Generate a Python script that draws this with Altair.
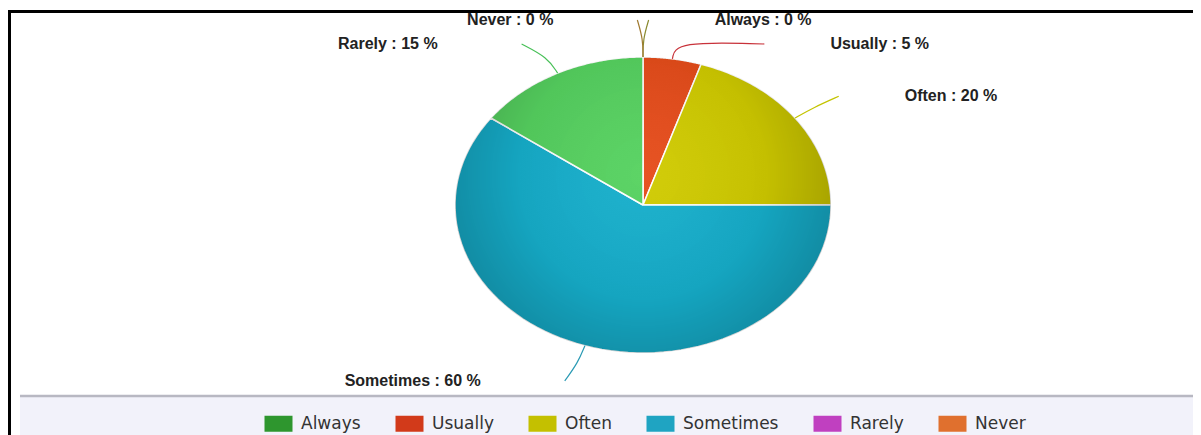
import altair as alt
import pandas as pd

# ---- data ----
categories = ["Always", "Usually", "Often", "Sometimes", "Rarely", "Never"]
percentages = [0, 5, 20, 60, 15, 0]

# ---- styles ----
slice_colors = ["#3a9a3a", "#e64c1a", "#d0cb00", "#16afcc", "#56d260", "#d07030"]
connector_colors = ["#8a8a30", "#c8323a", "#c4c400", "#2a9ab4", "#48c058", "#a07a30"]
legend_colors = ["#2e962e", "#d23a1a", "#c4c000", "#1fa4c2", "#c040c0", "#e0702e"]

df = pd.DataFrame({"cat": categories, "value": percentages,
                   "idx": list(range(len(categories)))})

W, H = 1185, 427
CX, CY = 635, 197      # pie centre in chart pixels
RX, RY = 188, 148      # pie radii in pixels (stretched pie)
xs = alt.Scale(domain=[-CX / RX, (W - CX) / RX], nice=False, zero=False)
ys = alt.Scale(domain=[-(H - CY) / RY, CY / RY], nice=False, zero=False)

base = (
    alt.Chart(df)
    .transform_window(cum="sum(value)", sort=[alt.SortField("idx")], frame=[None, 0])
    .transform_joinaggregate(total="sum(value)")
    .transform_calculate(
        a0="2*PI*(datum.cum - datum.value)/datum.total",
        a1="2*PI*datum.cum/datum.total",
    )
    .transform_calculate(mid="(datum.a0 + datum.a1)/2")
)

N = 80
slices = (
    base.transform_filter("datum.value > 0")
    .transform_calculate(t=f"sequence(-1, {N + 2})")
    .transform_flatten(["t"])
    .transform_calculate(ang=f"datum.a0 + (datum.a1 - datum.a0)*datum.t/{N}")
    .transform_calculate(
        px=f"(datum.t < 0 || datum.t > {N}) ? 0 : sin(datum.ang)",
        py=f"(datum.t < 0 || datum.t > {N}) ? 0 : cos(datum.ang)",
    )
    .mark_line(stroke="white", strokeWidth=1.5, strokeJoin="round")
    .encode(
        x=alt.X("px:Q", scale=xs, axis=None),
        y=alt.Y("py:Q", scale=ys, axis=None),
        fill=alt.Fill("cat:N", scale=alt.Scale(domain=categories, range=slice_colors), legend=None),
        detail="cat:N",
        order="t:Q",
    )
)

# shading overlay (radial gradient over the whole pie)
overlay = (
    alt.Chart(alt.Data(values=[{"k": 0}]))
    .transform_calculate(t="sequence(0, 181)")
    .transform_flatten(["t"])
    .transform_calculate(px="sin(2*PI*datum.t/180)", py="cos(2*PI*datum.t/180)")
    .mark_line(
        strokeWidth=0,
        fill={
            "gradient": "radial",
            "x1": 0.5, "y1": 0.42, "r1": 0,
            "x2": 0.5, "y2": 0.42, "r2": 0.66,
            "stops": [
                {"offset": 0, "color": "rgba(255,255,255,0.04)"},
                {"offset": 0.5, "color": "rgba(0,0,0,0.06)"},
                {"offset": 1, "color": "rgba(0,0,0,0.30)"},
            ],
        },
    )
    .encode(x=alt.X("px:Q", scale=xs, axis=None), y=alt.Y("py:Q", scale=ys, axis=None), order="t:Q")
)

GAP = 24 / RY
R = 1.25
GX_R = 66 / RX
GX_L = 84 / RX
layout = (
    base.transform_calculate(side="datum.mid < PI ? 1 : -1", ynat=f"{R}*cos(datum.mid)")
    .transform_window(k="row_number()", groupby=["side"],
                      sort=[alt.SortField("ynat", order="descending")])
    .transform_calculate(w=f"datum.ynat + {GAP}*datum.k")
    .transform_window(wmin="min(w)", groupby=["side"],
                      sort=[alt.SortField("ynat", order="descending")], frame=[None, 0])
    .transform_calculate(yl=f"datum.wmin - {GAP}*datum.k")
    .transform_calculate(xe=f"datum.side*(sqrt(max(0, {R * R} - datum.yl*datum.yl)) + 0.03)")
)

connectors = (
    layout.transform_calculate(s="sequence(0, 3)")
    .transform_flatten(["s"])
    .transform_calculate(
        qx="datum.s == 0 ? sin(datum.mid) : (datum.s == 1 ? 1.12*sin(datum.mid) : datum.xe)",
        qy="datum.s == 0 ? cos(datum.mid) : (datum.s == 1 ? 1.12*cos(datum.mid) : datum.yl)",
    )
    .mark_line(interpolate="basis", strokeWidth=1.2)
    .encode(
        x=alt.X("qx:Q", scale=xs, axis=None),
        y=alt.Y("qy:Q", scale=ys, axis=None),
        stroke=alt.Stroke("cat:N", scale=alt.Scale(domain=categories, range=connector_colors), legend=None),
        detail="cat:N",
        order="s:Q",
    )
)

lab = layout.transform_calculate(
    tx=f"datum.xe + (datum.side > 0 ? {GX_R} : -{GX_L})",
    lab="datum.cat + ' : ' + datum.value + ' %'",
)
text_style = dict(font="Liberation Sans", fontSize=16, fontWeight="bold", color="#222222", baseline="middle")
labels_r = lab.transform_filter("datum.side > 0").mark_text(align="left", **text_style).encode(
    x=alt.X("tx:Q", scale=xs, axis=None), y=alt.Y("yl:Q", scale=ys, axis=None), text="lab:N")
labels_l = lab.transform_filter("datum.side < 0").mark_text(align="right", **text_style).encode(
    x=alt.X("tx:Q", scale=xs, axis=None), y=alt.Y("yl:Q", scale=ys, axis=None), text="lab:N")

legend_layer = (
    alt.Chart(df)
    .transform_calculate(z="0")
    .mark_point(filled=True, opacity=0, size=1)
    .encode(
        x=alt.X("z:Q", scale=xs, axis=None),
        y=alt.Y("z:Q", scale=ys, axis=None),
        color=alt.Color(
            "cat:N",
            sort=categories,
            scale=alt.Scale(domain=categories, range=legend_colors),
            legend=alt.Legend(
                title=None, orient="none", legendX=262, legendY=407,
                direction="horizontal", columns=6,
                symbolType="M-1.75,-1L1.75,-1L1.75,1L-1.75,1Z", symbolSize=256,
                symbolOpacity=1, symbolStrokeWidth=0,
                labelFont="DejaVu Sans", labelFontSize=17, labelColor="#333333",
                labelOffset=14, columnPadding=34, padding=0, labelLimit=300,
            ),
        ),
    )
)

one = alt.Data(values=[{"k": 0}])
band = alt.Chart(one).mark_rect(color="#f2f2fa").encode(
    x=alt.value(12), x2=alt.value(W), y=alt.value(389), y2=alt.value(H))
sep = alt.Chart(one).mark_rule(color="#b8b8c2", strokeWidth=2.5).encode(
    x=alt.value(12), x2=alt.value(W), y=alt.value(388))
frame_top = alt.Chart(one).mark_rule(color="black", strokeWidth=3).encode(
    x=alt.value(0), x2=alt.value(W), y=alt.value(3.5))
frame_left = alt.Chart(one).mark_rule(color="black", strokeWidth=3).encode(
    x=alt.value(1.5), y=alt.value(2), y2=alt.value(H))

chart = (
    alt.layer(band, sep, frame_top, frame_left, slices, overlay, connectors,
              labels_r, labels_l, legend_layer)
    .resolve_scale(color="independent", fill="independent", stroke="independent")
    .properties(width=W, height=H, padding=0, autosize=alt.AutoSizeParams(type="none"),
                background="white")
    .configure_view(stroke=None)
)

chart.save("out.html", embed_options={"renderer": "svg", "actions": False})
